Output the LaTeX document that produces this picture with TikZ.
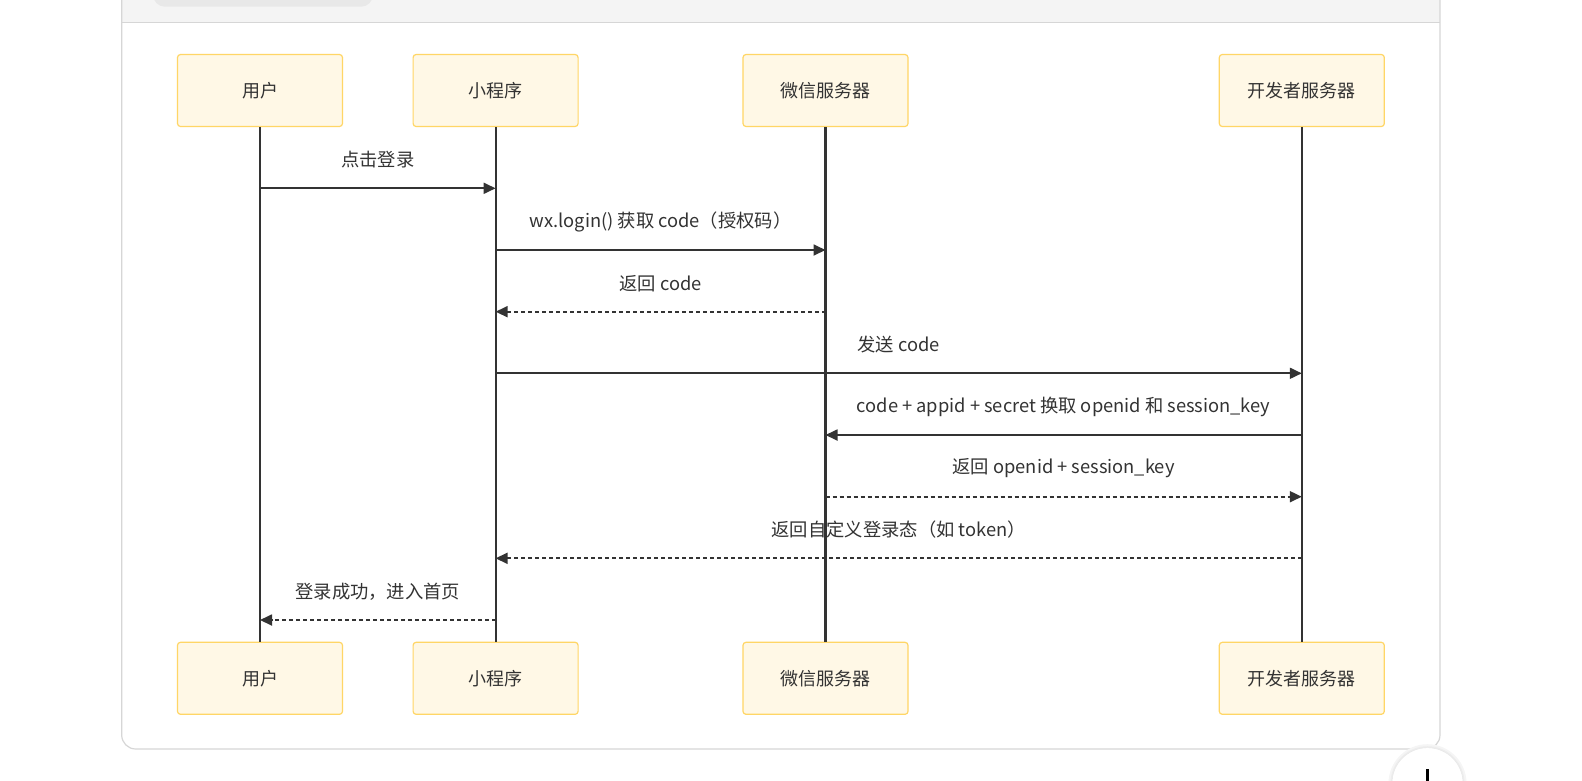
\documentclass[tikz,border=0pt]{standalone}
\usepackage{fontspec}
\setmainfont{Noto Sans CJK SC}
\usepackage{tikz}
\usetikzlibrary{arrows.meta,calc}
\definecolor{tinta}{HTML}{333333}
\definecolor{crema}{HTML}{FFF8E6}
\definecolor{borde}{HTML}{FFD666}
\definecolor{marco}{HTML}{D6D6D6}
\definecolor{cabecera}{HTML}{F4F4F4}
\definecolor{pestana}{HTML}{E8E8E8}

\begin{document}
\begin{tikzpicture}[x=1pt,y=-1pt,
  actor/.style={draw=borde, fill=crema, line width=1.2pt, rounded corners=3pt,
    minimum width=165pt, minimum height=72pt, text=tinta,
    font=\fontsize{18pt}{22pt}\selectfont},
  vida/.style={tinta, line width=2.2pt},
  msg/.style={tinta, line width=1.8pt, -{Triangle[length=12pt,width=11pt]}},
  ret/.style={msg, dash pattern=on 4pt off 3pt},
  lbl/.style={text=tinta, yshift=28.5pt, font=\fontsize{18.3pt}{22pt}\selectfont}]
  \useasboundingbox (0,0) rectangle (1582,780);

  % Marco y cabecera
  \fill[white, rounded corners=14pt] (121.7,-30) rectangle (1440,749);
  \fill[cabecera] (122.2,-30) rectangle (1439.5,21.7);
  \draw[marco] (121.7,21.7) -- (1440,21.7);
  \fill[pestana, rounded corners=12pt] (153,-30) rectangle (373,6.7);
  \draw[marco, line width=1.2pt, rounded corners=14pt] (121.7,-30) rectangle (1440,749);

  % Boton redondo
  \fill[black!4] (1427.5,783.2) circle (39);
  \fill[black!7] (1427.5,783.2) circle (37);
  \draw[black!10, fill=white] (1427.5,783.2) circle (35.5);
  \draw[black, line width=2.5pt] (1427.7,769) -- (1427.7,790);

  % Participantes y lineas de vida
  \foreach \n/\x/\t in {u/260/用户, a/495.6/小程序, w/825.5/微信服务器, d/1301.8/开发者服务器}{
    \node[actor] (top\n) at (\x,90.5) {\t};
    \node[actor] (bot\n) at (\x,678.3) {\t};
    \draw[vida] (top\n) -- (bot\n);
  }

  % Mensajes
  \foreach \y/\a/\b/\s/\t [count=\i] in {
      188.3/u/a/msg/{点击登录},
      250/a/w/msg/{wx.login() 获取 code（授权码）},
      311.7/w/a/ret/{返回 code},
      373.3/a/d/msg/{发送 code},
      435/d/w/msg/{code + appid + secret 换取 openid 和 session\_key},
      496.7/w/d/ret/{返回 openid + session\_key},
      558.3/d/a/ret/{返回自定义登录态（如 token）},
      620/a/u/ret/{登录成功，进入首页}}
    \draw[\s] (top\a |- 0,\y) -- node[lbl] (m\i) {\t} (top\b |- 0,\y);
\end{tikzpicture}
\end{document}
